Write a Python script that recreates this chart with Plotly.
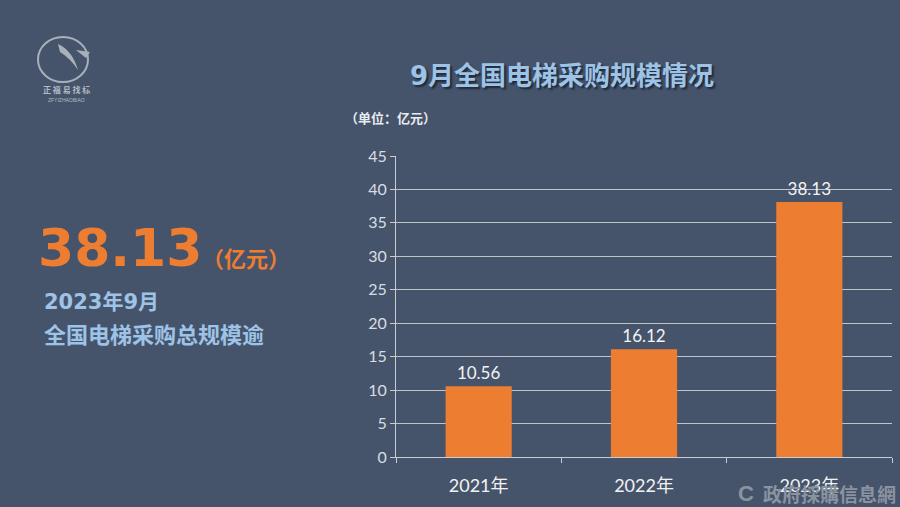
import plotly.graph_objects as go

categories = ["2021年", "2022年", "2023年"]
values = [10.56, 16.12, 38.13]
value_labels = ["10.56", "16.12", "38.13"]
y_ticks = [0, 5, 10, 15, 20, 25, 30, 35, 40, 45]

W, H = 900, 507
BG = "#46546b"
ORANGE = "#ed7d31"
LIGHTBLUE = "#9dc3e6"
CJK = "Noto Sans CJK SC"
NUMF = "Lato, Noto Sans CJK SC"

def px(x):
    return x / W

def py(y):
    return 1 - y / H

fig = go.Figure()
fig.add_trace(go.Bar(
    x=categories, y=values,
    marker=dict(color=ORANGE, line=dict(width=0)),
    text=value_labels, textposition="outside",
    textfont=dict(family=NUMF, size=17, color="#f2f2f2"),
    cliponaxis=False, width=0.4,
))

fig.update_layout(
    width=W, height=H,
    paper_bgcolor=BG, plot_bgcolor=BG,
    margin=dict(l=0, r=0, t=0, b=0, pad=0, autoexpand=False),
    showlegend=False,
    xaxis=dict(
        domain=[px(396), px(892)], automargin=False,
        showline=True, linecolor="#c8cdd4", linewidth=1,
        ticks="outside", tickson="boundaries", ticklen=5, tickcolor="#c8cdd4",
        tickfont=dict(family=NUMF, size=18, color="#f2f2f2"),
        ticklabelstandoff=12,
        showgrid=False,
    ),
    yaxis=dict(
        domain=[py(457), py(156)], automargin=False,
        range=[0, 45], tickvals=y_ticks,
        showline=True, linecolor="#c8cdd4", linewidth=1,
        ticks="outside", ticklen=5, tickcolor="#c8cdd4",
        tickfont=dict(family=NUMF, size=16, color="#d9dde2"),
        showgrid=True, gridcolor="#c0c5cc", gridwidth=1,
        zeroline=False,
    ),
)

def note(x, y, text, font, xanchor="left"):
    return dict(x=px(x), y=py(y), xref="paper", yref="paper", showarrow=False,
                xanchor=xanchor, yanchor="middle", text=text, font=font)

ann = [
    note(562, 76, "<b>9月全国电梯采购规模情况</b>",
         dict(family="DejaVu Sans, " + CJK, size=26, color=LIGHTBLUE, shadow="2px 2px 2px #1f2838"),
         xanchor="center"),
    note(343, 117, "<b>（单位：亿元）</b>", dict(family=CJK, size=13, color="#e8ecf0")),
    note(36, 248, "<b>38.13</b>", dict(family="DejaVu Sans", size=52, color=ORANGE)),
    note(200, 257, "<b>（亿元）</b>", dict(family=CJK, size=22, color=ORANGE)),
    note(42, 302, "<b>2023年9月</b>", dict(family="DejaVu Sans, " + CJK, size=21, color=LIGHTBLUE)),
    note(42, 333, "<b>全国电梯采购总规模逾</b>", dict(family=CJK, size=22, color=LIGHTBLUE)),
    note(66, 89, "<b>正 福 易 找 标</b>", dict(family=CJK, size=8, color="#b4bac4"), xanchor="center"),
    note(66, 100, "ZFYIZHAOBIAO", dict(family="Liberation Sans", size=5, color="#b4bac4"), xanchor="center"),
    note(746, 493, "<b>C</b>", dict(family="Liberation Sans", size=22, color="#8a93a0"), xanchor="center"),
    note(761, 493, "<b>政府採購信息網</b>", dict(family="Noto Sans CJK TC", size=19, color="#8a93a0")),
]
fig.update_layout(annotations=ann)

# logo circle
fig.add_shape(type="circle", xref="paper", yref="paper",
              x0=px(38), x1=px(88), y0=py(37), y1=py(82),
              line=dict(color="#a9b0ba", width=2))
fig.add_shape(type="path", xref="paper", yref="paper",
              path=f"M {px(58)},{py(44)} Q {px(72)},{py(50)} {px(78)},{py(70)} Q {px(70)},{py(58)} {px(60)},{py(52)} Z",
              fillcolor="#a9b0ba", line=dict(width=0))
fig.add_shape(type="path", xref="paper", yref="paper",
              path=f"M {px(76)},{py(50)} L {px(90)},{py(52)} L {px(86)},{py(58)} Z",
              fillcolor="#a9b0ba", line=dict(width=0))

fig.write_html("out.html")
